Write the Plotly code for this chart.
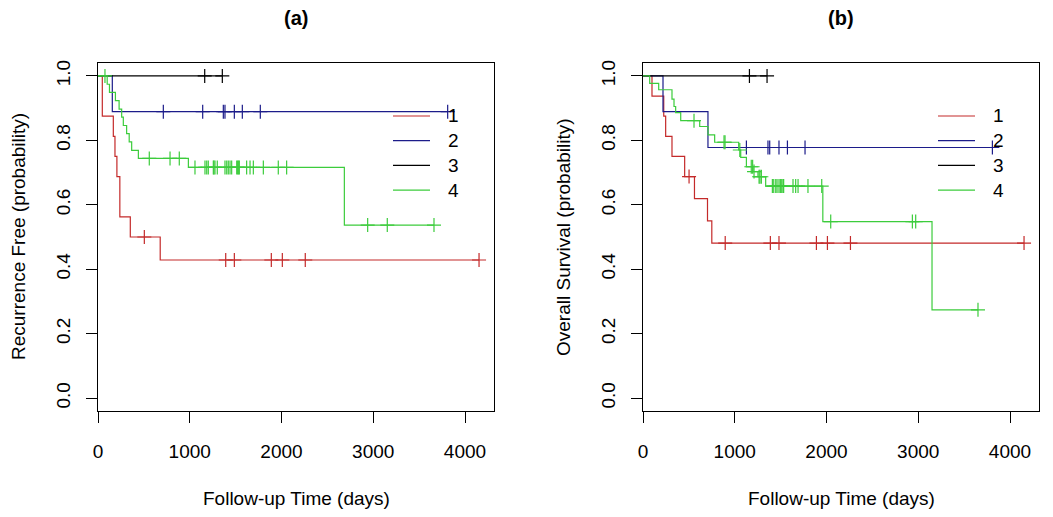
import plotly.graph_objects as go

W, H = 1053, 517
OFF = 8  # the page body margin shifts the figure by 8 px

groups = ["1", "2", "3", "4"]
colors = ["#c42a2a", "#1c1c8a", "#000000", "#3ccc3c"]

# (a) recurrence free: step times, survival after each step, censor times
rf_t1 = [47, 167, 185, 206, 238, 352, 678]
rf_s1 = [0.875, 0.8125, 0.75, 0.6875, 0.5625, 0.5, 0.4286]
rf_c1 = [505, 1392, 1486, 1889, 2009, 2259, 4153]

rf_t2 = [156]
rf_s2 = [0.8889]
rf_c2 = [712, 1141, 1366, 1384, 1486, 1573, 1769, 3811]

rf_t3 = []
rf_s3 = []
rf_c3 = [1163, 1355]

rf_t4 = [100, 125, 190, 230, 258, 276, 312, 340, 367, 440, 985, 2685]
rf_s4 = [0.974, 0.949, 0.923, 0.897, 0.872, 0.846, 0.821, 0.795, 0.769, 0.744, 0.716, 0.537]
rf_c4 = [76, 559, 785, 886, 1057, 1166, 1185, 1202, 1257, 1264, 1275, 1300, 1384,
         1403, 1420, 1439, 1457, 1512, 1522, 1533, 1540, 1620, 1657, 1693, 1802,
         1965, 2056, 2939, 3153, 3662]

# (b) overall survival
os_t1 = [98, 226, 247, 316, 454, 561, 703, 750]
os_s1 = [0.9375, 0.875, 0.8125, 0.75, 0.6875, 0.6188, 0.55, 0.4813]
os_c1 = [502, 896, 1388, 1482, 1890, 2010, 2261, 4153]

os_t2 = [218, 708]
os_s2 = [0.8889, 0.7778]
os_c2 = [1127, 1362, 1381, 1482, 1574, 1766, 3808]

os_t3 = []
os_s3 = []
os_c3 = [1160, 1352]

os_t4 = [73, 171, 316, 338, 356, 411, 618, 709, 781, 1043, 1065, 1127, 1199, 1253,
         1337, 1960, 3150]
os_s4 = [0.977, 0.957, 0.928, 0.905, 0.886, 0.861, 0.843, 0.817, 0.794, 0.770,
         0.747, 0.718, 0.703, 0.687, 0.658, 0.548, 0.274]
os_c4 = [556, 883, 894, 1055, 1180, 1195, 1210, 1265, 1275, 1290, 1410, 1425, 1447,
         1461, 1482, 1497, 1512, 1526, 1533, 1635, 1664, 1690, 1798, 1948, 2046,
         2936, 2972, 3651]

panels = [
    [(rf_t1, rf_s1, rf_c1), (rf_t2, rf_s2, rf_c2), (rf_t3, rf_s3, rf_c3), (rf_t4, rf_s4, rf_c4)],
    [(os_t1, os_s1, os_c1), (os_t2, os_s2, os_c2), (os_t3, os_s3, os_c3), (os_t4, os_s4, os_c4)],
]
titles = ["(a)", "(b)"]
ytitles = ["Recurrence Free (probability)", "Overall Survival (probability)"]

# plot boxes in page pixels (left, right), shared top/bottom
box_x = [(98, 494), (643, 1039)]
box_top, box_bot = 63, 411

FW, FH = W - OFF, H - OFF


def px(x):
    return (x - OFF) / FW


def py(y):
    return 1 - (y - OFF) / FH


def level_at(t, steps_t, steps_s):
    s = 1.0
    for st, ss in zip(steps_t, steps_s):
        if st <= t:
            s = ss
    return s


fig = go.Figure()
font = "Liberation Sans, Arial, sans-serif"

for p, curves in enumerate(panels):
    xa = "x" if p == 0 else "x2"
    ya = "y" if p == 0 else "y2"
    for g, (st, ss, ct) in enumerate(curves):
        end = max([0] + st + ct)
        xs = [0] + st + [end]
        ys = [1.0] + ss + [ss[-1] if ss else 1.0]
        fig.add_trace(go.Scatter(
            x=xs, y=ys, mode="lines", line_shape="hv",
            line=dict(color=colors[g], width=1.2),
            xaxis=xa, yaxis=ya, showlegend=False, hoverinfo="skip"))
        fig.add_trace(go.Scatter(
            x=ct, y=[level_at(t, st, ss) for t in ct], mode="markers",
            marker=dict(symbol="cross-thin", size=10, color=colors[g],
                        line=dict(color=colors[g], width=1.2)),
            xaxis=xa, yaxis=ya, showlegend=False, hoverinfo="skip"))

axis_common = dict(showline=True, mirror=True, linecolor="black", linewidth=1,
                   ticks="outside", ticklen=11, tickcolor="black", showgrid=False,
                   zeroline=False, automargin=False,
                   tickfont=dict(family=font, size=19, color="black"))

dom_y = [py(box_bot), py(box_top)]
for p in range(2):
    sfx = "" if p == 0 else "2"
    l, r = box_x[p]
    fig.update_layout(**{
        "xaxis" + sfx: dict(axis_common, domain=[px(l), px(r)], range=[0, 4316],
                            tickvals=[0, 1000, 2000, 3000, 4000],
                            anchor="y" + sfx, ticklabelstandoff=12),
        "yaxis" + sfx: dict(axis_common, domain=dom_y, range=[-0.04, 1.04],
                            tickvals=[0, 0.2, 0.4, 0.6, 0.8, 1.0],
                            ticktext=["0.0", "0.2", "0.4", "0.6", "0.8", "1.0"],
                            tickangle=-90, anchor="x" + sfx, ticklabelstandoff=8),
    })


def label(x, y, text, size=19, angle=0, xanchor="center"):
    return dict(x=px(x), y=py(y), xref="paper", yref="paper", text=text,
                showarrow=False, textangle=angle, xanchor=xanchor, yanchor="middle",
                font=dict(family=font, size=size, color="black"))


annotations = []
shapes = []
for p in range(2):
    l, r = box_x[p]
    cx = (l + r) / 2
    annotations.append(label(cx, 18, "<b>" + titles[p] + "</b>", size=20))
    annotations.append(label(cx, 498, "Follow-up Time (days)"))
    annotations.append(label(l - 80, (box_top + box_bot) / 2, ytitles[p], angle=-90))
    # legend
    lx0, lx1 = (393, 430) if p == 0 else (938, 975)
    for g, name in enumerate(groups):
        yy = 116 + g * 24.7
        shapes.append(dict(type="line", xref="paper", yref="paper",
                           x0=px(lx0), x1=px(lx1), y0=py(yy), y1=py(yy),
                           line=dict(color=colors[g], width=1.2)))
        annotations.append(label(lx1 + 16, yy, name, xanchor="left"))

fig.update_layout(width=FW, height=FH, margin=dict(l=0, r=0, t=0, b=0, pad=0),
                  paper_bgcolor="white", plot_bgcolor="white",
                  annotations=annotations, shapes=shapes, showlegend=False)

fig.write_html("out.html")
